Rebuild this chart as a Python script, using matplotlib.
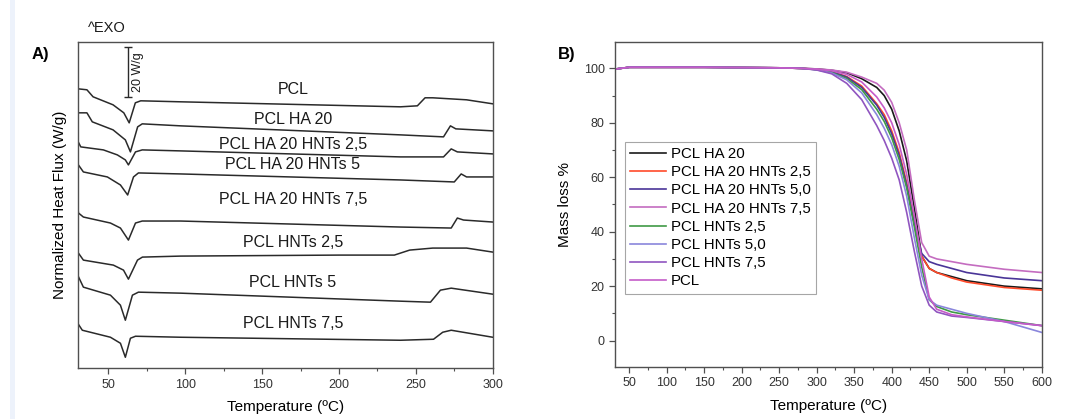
import matplotlib
matplotlib.use("Agg")
import matplotlib.pyplot as plt
from matplotlib.ticker import MultipleLocator, NullLocator
from matplotlib.patches import Rectangle

plt.rcParams["font.family"] = ["Liberation Sans", "DejaVu Sans"]

# ---------------------------------------------------------------- DSC (A)
dsc_labels = [
    "PCL", "PCL HA 20", "PCL HA 20 HNTs 2,5", "PCL HA 20 HNTs 5",
    "PCL HA 20 HNTs 7,5", "PCL HNTs 2,5", "PCL HNTs 5", "PCL HNTs 7,5",
]
# temperature (ºC) and stacked heat flux (W/g, offsets included)
dsc_temp = [
    [30, 36, 40, 53, 60, 63.5, 67.5, 71, 97, 240, 251, 256, 261, 283, 300],
    [30, 36, 39.5, 53, 61, 64.3, 69, 72, 97, 240, 268, 272.5, 276, 300],
    [30, 32, 46.7, 55.8, 61, 63, 67.6, 72, 97, 240, 268, 273, 277, 300],
    [30, 33.7, 49.3, 57.8, 62.5, 66.3, 69.5, 97, 240, 275, 279.5, 283, 300],
    [30, 30.5, 33.7, 51.3, 57.8, 63, 67.6, 72, 97, 240, 273, 277, 281, 300],
    [30, 33.7, 53.2, 59.8, 63, 68.9, 72.1, 97, 200, 236, 246, 261, 283, 300],
    [30, 33.7, 51.3, 57.8, 61, 65.6, 69.5, 97, 240, 259.5, 266, 273, 300],
    [30, 33, 51.3, 57.8, 61, 64.3, 67.6, 97, 240, 261.5, 267.5, 273, 300],
]
dsc_flux = [
    [111.6, 111.2, 108.4, 105.2, 102, 98, 106, 106.8, 106.4, 104.4, 104.8, 108, 108, 107.2, 105.6],
    [102, 102, 98.4, 95.2, 91.2, 86.4, 96.4, 97.6, 96.8, 93.2, 92.4, 96.8, 95.6, 94.8],
    [90.8, 88.4, 87.2, 85.2, 83.2, 81.2, 86.4, 87.2, 86.8, 84.4, 84.4, 87.6, 86.4, 85.6],
    [81.6, 78.4, 76.4, 73.2, 69.2, 76.4, 78, 77.6, 75.2, 74.4, 77.6, 76.4, 76.4],
    [64.4, 62, 60.4, 58, 56, 51.2, 58, 58.8, 58.8, 56.4, 56, 60, 59.2, 58.4],
    [46.4, 43.2, 41.2, 39.2, 35.6, 43.2, 44.4, 44.8, 45.2, 45.2, 47.2, 48, 48, 46.4],
    [37.2, 32.4, 29.2, 25.2, 19.2, 29.2, 30.4, 30, 26.8, 26.4, 31.2, 32, 29.6],
    [18, 15.2, 12.4, 10, 4.4, 12, 12.8, 12.4, 11.2, 11.6, 14.4, 15.2, 12.4],
]
dsc_label_x = 170
dsc_label_y = [111.5, 99.2, 89.2, 81.2, 67.2, 50.4, 34.4, 18]
scale_t, scale_bottom, scale_len = 63, 108.4, 20

# ---------------------------------------------------------------- TGA (B)
tga_temp = [30, 50, 100, 150, 200, 250, 280, 300, 320, 340, 360, 380, 390,
            400, 410, 420, 430, 440, 450, 460, 480, 500, 550, 600]
tga_labels = [
    "PCL HA 20", "PCL HA 20 HNTs 2,5", "PCL HA 20 HNTs 5,0", "PCL HA 20 HNTs 7,5",
    "PCL HNTs 2,5", "PCL HNTs 5,0", "PCL HNTs 7,5", "PCL",
]
tga_colors = ["#1a1a1a", "#ff4a2a", "#4a3598", "#c46cc0",
              "#3f9a45", "#8a86dc", "#9055c0", "#c55cc8"]
tga_mass = [
    [99.7, 100.4, 100.4, 100.4, 100.3, 100.2, 100.0, 99.8, 99.3, 98.4, 96.2, 93, 90,
     85, 77, 66, 49, 31, 26.5, 25, 23.5, 22, 20, 19],
    [99.7, 100.4, 100.4, 100.4, 100.3, 100.2, 100.0, 99.6, 98.8, 97, 93.5, 87, 83,
     77, 69, 58, 44, 31, 26.5, 25, 23, 21.5, 19.5, 18.5],
    [99.7, 100.4, 100.4, 100.4, 100.3, 100.2, 100.0, 99.6, 98.7, 96.8, 93, 86.5, 82,
     76, 68, 57, 43, 32, 29, 28, 26.5, 25, 23, 22],
    [99.7, 100.4, 100.4, 100.4, 100.3, 100.2, 100.0, 99.8, 99.4, 98.6, 96.8, 94.5, 92,
     87.5, 80, 70, 52, 36, 31, 30, 29, 28, 26.2, 25],
    [99.7, 100.4, 100.4, 100.4, 100.3, 100.2, 100.0, 99.5, 98.5, 96.3, 92.2, 85, 80.5,
     74.5, 66.5, 56, 42, 27, 15, 12.5, 10.5, 9.5, 7.5, 5.5],
    [99.7, 100.4, 100.4, 100.4, 100.3, 100.2, 100.0, 99.5, 98.3, 95.8, 91, 83, 78,
     72, 64, 53, 38, 24, 15, 13, 11.5, 10, 7, 3],
    [99.7, 100.4, 100.4, 100.4, 100.3, 100.2, 100.0, 99.4, 98, 94.5, 88.5, 79, 73.5,
     67, 59, 47, 33, 20, 13, 10.5, 9, 8.5, 7, 5.5],
    [99.7, 100.4, 100.4, 100.4, 100.3, 100.2, 100.0, 99.7, 99.1, 97.8, 95, 89.5, 85.5,
     80, 72, 61, 46, 30, 16, 11.5, 9.5, 8.7, 7, 5.5],
]

W, H = 1067, 419
fig = plt.figure(figsize=(W / 100, H / 100), dpi=100)
fig.add_artist(Rectangle((10 / W, 0), 5 / W, 1, transform=fig.transFigure,
                         color="#edf2fb", lw=0))

spine_c = "#505050"
tick_c = "#333333"


def style_axes(ax):
    for s in ax.spines.values():
        s.set_color(spine_c)
        s.set_linewidth(1.0)
    ax.tick_params(which="both", direction="out", colors=spine_c,
                   labelcolor=tick_c, labelsize=9)
    ax.tick_params(which="major", length=4, width=0.9)
    ax.tick_params(which="minor", length=2.5, width=0.8)


# ---- panel A
axA = fig.add_axes([77.7 / W, (H - 368.3) / H, (492.7 - 77.7) / W, (368.3 - 41.7) / H])
for t, f in zip(dsc_temp, dsc_flux):
    axA.plot(t, f, color="#2a2a2a", lw=1.1)
for lab, y in zip(dsc_labels, dsc_label_y):
    axA.text(dsc_label_x, y, lab, ha="center", va="center", fontsize=11.5, color="#1a1a1a")
axA.errorbar(scale_t, scale_bottom + scale_len / 2, yerr=scale_len / 2,
             color="#2a2a2a", capsize=3, lw=1.0, capthick=1.0)
axA.text(scale_t + 6, scale_bottom + scale_len / 2, "20 W/g", rotation=90,
         ha="center", va="center", fontsize=9, color="#1a1a1a")
axA.set_xlim(30, 300)
axA.set_ylim(0, 130.4)
axA.xaxis.set_major_locator(MultipleLocator(50))
axA.xaxis.set_minor_locator(MultipleLocator(25))
axA.yaxis.set_major_locator(NullLocator())
axA.set_xlabel("Temperature (ºC)", fontsize=11, labelpad=7)
axA.set_ylabel("Normalized Heat Flux (W/g)", fontsize=11, labelpad=8)
style_axes(axA)

# ---- panel B
axB = fig.add_axes([615 / W, (H - 366.7) / H, (1041.7 - 615) / W, (366.7 - 41.7) / H])
for lab, c, m in zip(tga_labels, tga_colors, tga_mass):
    axB.plot(tga_temp, m, color=c, lw=1.2, label=lab)
axB.set_xlim(31, 600)
axB.set_ylim(-9.6, 109.8)
axB.xaxis.set_major_locator(MultipleLocator(50))
axB.xaxis.set_minor_locator(MultipleLocator(25))
axB.yaxis.set_major_locator(MultipleLocator(20))
axB.yaxis.set_minor_locator(MultipleLocator(10))
axB.set_xlabel("Temperature (ºC)", fontsize=11, labelpad=7)
axB.set_ylabel("Mass loss %", fontsize=11, labelpad=8)
style_axes(axB)
leg = axB.legend(loc="upper left", bbox_to_anchor=(0.0234, 0.692), borderaxespad=0,
                 fontsize=10.8, frameon=True, fancybox=False, handlelength=2.4,
                 handletextpad=0.3, labelspacing=0.28, borderpad=0.35)
leg.get_frame().set_edgecolor("#909090")
leg.get_frame().set_linewidth(0.8)

fig.text(88 / W, 1 - 28 / H, "^EXO", ha="left", va="center", fontsize=10.5, color="#1a1a1a")
fig.text(32 / W, 1 - 55 / H, "A)", ha="left", va="center", fontsize=12, fontweight="bold")
fig.text(558 / W, 1 - 55 / H, "B)", ha="left", va="center", fontsize=12, fontweight="bold")

fig.savefig("out.png", dpi=100)
